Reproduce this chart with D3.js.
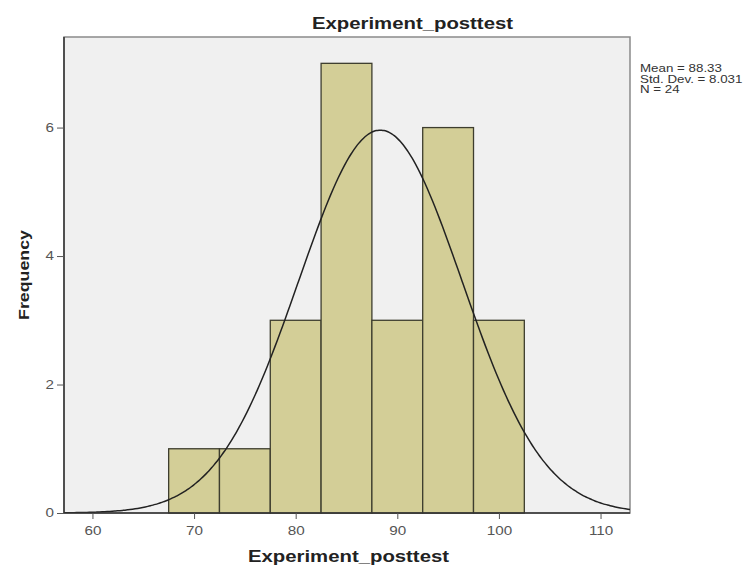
<!DOCTYPE html>
<html lang="en">
<head>
    <meta charset="UTF-8">
    <title>Experiment_posttest</title>
    <script src="https://d3js.org/d3.v7.min.js"></script>
    <style>
        body { margin: 0; background: #fff; }
        text { font-family: "Liberation Sans", Arial, sans-serif; }
        .tick text { font-size: 12px; fill: #555; }
    </style>
</head>
<body>
    <div id="chart"></div>

    <script>
        // histogram bins (lower edge, upper edge) and counts
        const binStarts = [67.5, 72.5, 77.5, 82.5, 87.5, 92.5, 97.5];
        const binWidth = 5;
        const counts = [1, 1, 3, 7, 3, 6, 3];

        // summary stats shown in the legend
        const mean = 88.33;
        const stdDev = 8.031;
        const n = 24;

        const xTicks = [60, 70, 80, 90, 100, 110];
        const yTicks = [0, 2, 4, 6];
        const statLines = ["Mean = 88.33", "Std. Dev. = 8.031", "N = 24"];

        const W = 752, H = 568;
        const plotLeft = 64, plotRight = 630, plotTop = 37, plotBottom = 513;
        const stretch = 1.27;

        const svg = d3.select("#chart").append("svg")
            .attr("width", W)
            .attr("height", H);

        const x = d3.scaleLinear().domain([57.2, 112.9]).range([plotLeft, plotRight]);
        const y = d3.scaleLinear().domain([0, 7.41]).range([plotBottom, plotTop]);

        // plot background
        svg.append("rect")
            .attr("x", plotLeft).attr("y", plotTop)
            .attr("width", plotRight - plotLeft).attr("height", plotBottom - plotTop)
            .attr("fill", "#f0f0f0")
            .attr("stroke", "#8a8a8a")
            .attr("stroke-width", 1.5);

        svg.append("clipPath").attr("id", "clip")
            .append("rect")
            .attr("x", plotLeft).attr("y", plotTop)
            .attr("width", plotRight - plotLeft).attr("height", plotBottom - plotTop);

        // bars
        svg.append("g").selectAll("rect")
            .data(binStarts)
            .enter()
            .append("rect")
            .attr("x", d => x(d))
            .attr("y", (d, i) => y(counts[i]))
            .attr("width", d => x(d + binWidth) - x(d))
            .attr("height", (d, i) => y(0) - y(counts[i]))
            .attr("fill", "#d3ce97")
            .attr("stroke", "#3d3d2e")
            .attr("stroke-width", 1.3);

        // normal curve from the mean / sd in the legend
        const curvePts = d3.range(57.2, 113, 0.25).map(v => {
            const z = (v - mean) / stdDev;
            return [v, n * binWidth * Math.exp(-0.5 * z * z) / (stdDev * Math.sqrt(2 * Math.PI))];
        });
        svg.append("path")
            .datum(curvePts)
            .attr("clip-path", "url(#clip)")
            .attr("fill", "none")
            .attr("stroke", "#222")
            .attr("stroke-width", 1.5)
            .attr("d", d3.line().x(d => x(d[0])).y(d => y(d[1])).curve(d3.curveBasis));

        // axes
        const xAxis = svg.append("g")
            .attr("transform", `translate(0, ${plotBottom})`)
            .call(d3.axisBottom(x).tickValues(xTicks).tickSize(6).tickPadding(7));
        const yAxis = svg.append("g")
            .attr("transform", `translate(${plotLeft}, 0)`)
            .call(d3.axisLeft(y).tickValues(yTicks).tickSize(7).tickPadding(3));

        [xAxis, yAxis].forEach(g => {
            g.select(".domain").attr("stroke", "#333").attr("stroke-width", 1.5);
            g.selectAll(".tick line").attr("stroke", "#555");
            g.attr("font-family", null);
        });
        xAxis.select(".domain").attr("d", `M${plotLeft},0H${plotRight}`);
        yAxis.select(".domain").attr("d", `M0,${plotTop}V${plotBottom}`);

        // title
        svg.append("text")
            .attr("class", "stretch")
            .attr("x", 312).attr("y", 29)
            .attr("font-size", 16).attr("font-weight", "bold")
            .attr("fill", "#222")
            .text("Experiment_posttest");

        // x label
        svg.append("text")
            .attr("class", "stretch")
            .attr("x", 248).attr("y", 562)
            .attr("font-size", 16).attr("font-weight", "bold")
            .attr("fill", "#222")
            .text("Experiment_posttest");

        // y label
        svg.append("text")
            .attr("class", "stretch")
            .attr("transform", "translate(28.5, 275) rotate(-90)")
            .attr("text-anchor", "middle")
            .attr("font-size", 14).attr("font-weight", "bold")
            .attr("fill", "#222")
            .text("Frequency");

        // stats
        svg.append("g").selectAll("text")
            .data(statLines)
            .enter()
            .append("text")
            .attr("class", "stretch")
            .attr("x", 640)
            .attr("y", (d, i) => 72 + i * 10.5)
            .attr("font-size", 10.5)
            .attr("fill", "#333")
            .text(d => d);

        // text in the reference is wider than Arial, widen it
        svg.selectAll(".stretch, .tick text").each(function () {
            const len = this.getComputedTextLength();
            d3.select(this)
                .attr("textLength", len * stretch)
                .attr("lengthAdjust", "spacingAndGlyphs");
        });
    </script>
</body>
</html>
